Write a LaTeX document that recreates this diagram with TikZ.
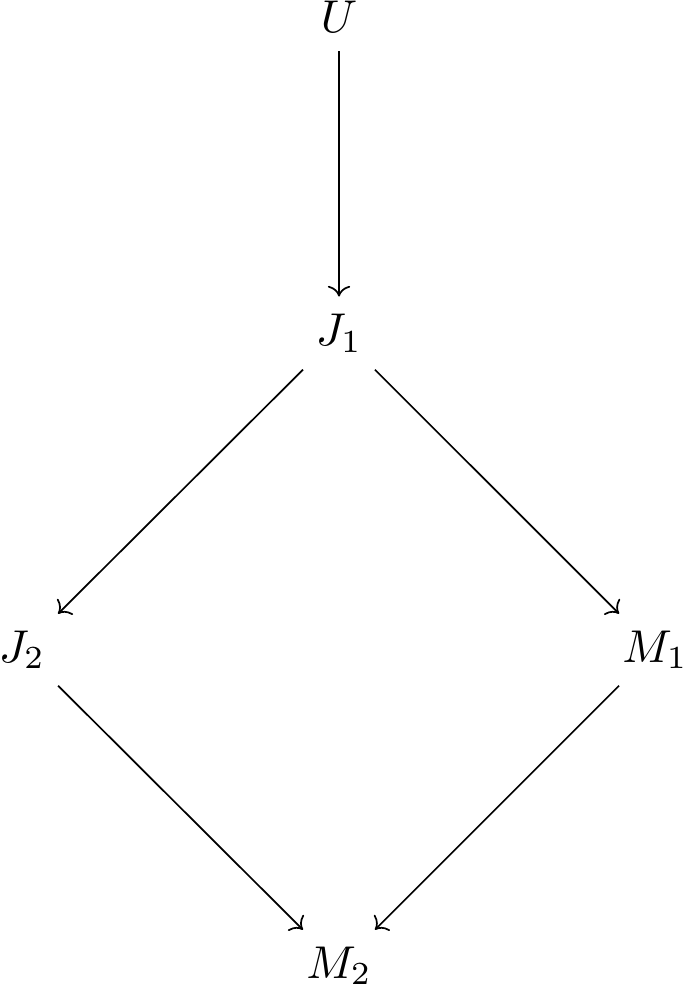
\documentclass[tikz,border=0pt]{standalone}
\usepackage{graphicx}
\usetikzlibrary{cd}
\newcommand{\objtext}[1]{\scalebox{1.07}{$#1$}}
\begin{document}
\begin{tikzpicture}[x=0.2326pt,y=-0.2326pt,
  obj/.style={inner sep=3pt,anchor=base},
  arr/.style={-{cm to},line width=0.4pt,shorten >=1pt,shorten <=1pt}]
\useasboundingbox (0,0) rectangle (685,987);
\node[obj] (U) at (339,33) {\objtext{U}};
\node[obj] (J1) at (339,346) {\objtext{J_1}};
\node[obj] (J2) at (22,662) {\objtext{J_2}};
\node[obj] (M1) at (655,662) {\objtext{M_1}};
\node[obj] (M2) at (339,978) {\objtext{M_2}};
\draw[arr] (U) -- (J1);
\draw[arr] (J1) -- (J2);
\draw[arr] (J1) -- (M1);
\draw[arr] (J2) -- (M2);
\draw[arr] (M1) -- (M2);
\end{tikzpicture}
\end{document}
